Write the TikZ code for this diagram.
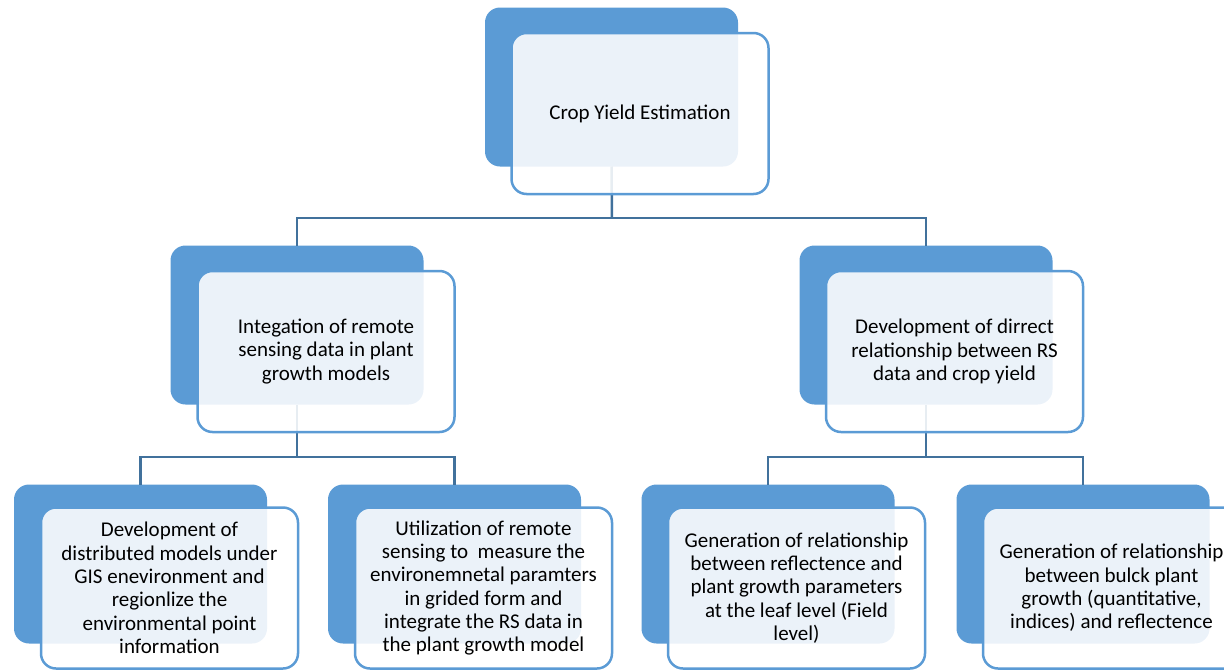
\documentclass[tikz,border=0pt]{standalone}
\usepackage{fontspec}
\setmainfont{Carlito}
\definecolor{boxblue}{HTML}{5B9BD5}
\definecolor{lineblue}{HTML}{41719C}
\begin{document}
\begin{tikzpicture}[x=1pt,y=-1pt,
  backbox/.style={fill=boxblue, rounded corners=15pt, minimum width=253pt, minimum height=159pt, inner sep=0pt, outer sep=0pt},
  frontbox/.style={draw=boxblue, line width=2.5pt, fill=white, fill opacity=0.88, text opacity=1, rounded corners=15pt, minimum width=257pt, minimum height=161pt, inner sep=0pt, align=center, font=\fontsize{21pt}{23.3pt}\selectfont},
  conn/.style={draw=lineblue, line width=2.5pt}]
\useasboundingbox (0,0) rectangle (1224,670);
\clip (0,0) rectangle (1224,670);
% back boxes
\node[backbox] (tb) at (611.5,87) {};
\node[backbox] (mlb) at (297,325) {};
\node[backbox] (mrb) at (926,325) {};
\node[backbox] (b1b) at (140.5,564) {};
\node[backbox] (b2b) at (454.5,564) {};
\node[backbox] (b3b) at (768,564) {};
\node[backbox] (b4b) at (1083,564) {};
% connectors (drawn under the front boxes)
\coordinate (bus1) at (612,218);
\coordinate (bus2) at (297,457);
\coordinate (bus3) at (926,457);
\draw[conn] (tb.south) -- (bus1);
\draw[conn] (mlb.north) |- (bus1) -| (mrb.north);
\draw[conn] (mlb.south) -- (bus2);
\draw[conn] (b1b.north) |- (bus2) -| (b2b.north);
\draw[conn] (mrb.south) -- (bus3);
\draw[conn] (b3b.north) |- (bus3) -| (b4b.north);
% front boxes
\node[frontbox] (t) at (640,113.5) {Crop Yield Estimation};
\node[frontbox] (ml) at (326,351.5) {Integation of remote\\sensing data in plant\\growth models};
\node[frontbox] (mr) at (954.5,351.5) {Development of dirrect\\relationship between RS\\data and crop yield};
\node[frontbox] (b1) at (169.5,588) {Development of\\distributed models under\\GIS enevironment and\\regionlize the\\environmental point\\information};
\node[frontbox] (b2) at (483.5,588) {Utilization of remote\\sensing to\ \ measure the\\environemnetal paramters\\in grided form and\\integrate the RS data in\\the plant growth model};
\node[frontbox] (b3) at (796.5,588) {Generation of relationship\\between reflectence and\\plant growth parameters\\at the leaf level (Field\\level)};
\node[frontbox] (b4) at (1111.5,588) {Generation of relationship\\between bulck plant\\growth (quantitative,\\indices) and reflectence};
\end{tikzpicture}
\end{document}
